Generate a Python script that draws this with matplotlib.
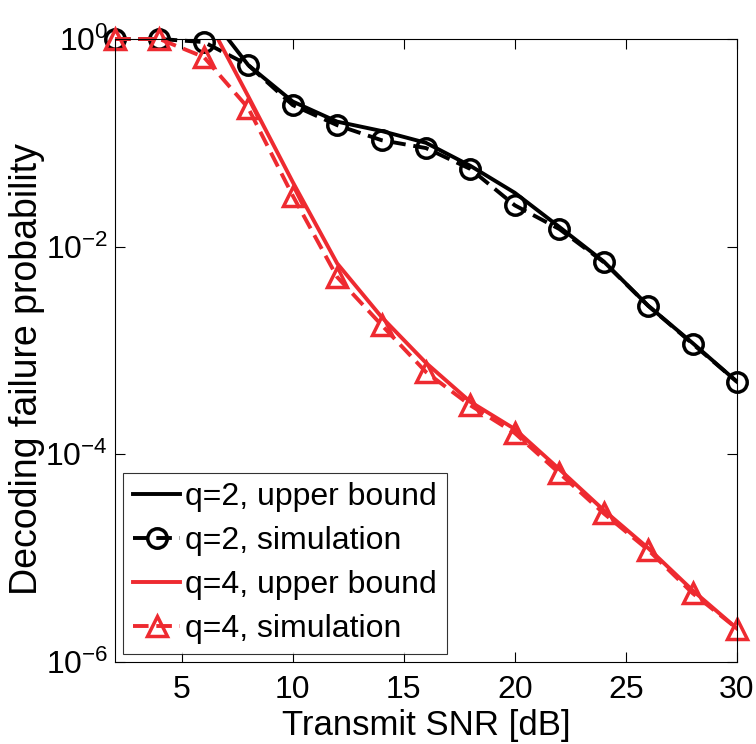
import matplotlib
matplotlib.use('Agg')
import matplotlib.pyplot as plt
from matplotlib.ticker import FixedLocator, NullLocator

plt.rcParams['font.family'] = ['Liberation Sans', 'DejaVu Sans']
plt.rcParams['mathtext.fontset'] = 'custom'
plt.rcParams['mathtext.rm'] = 'Liberation Sans'

snr = [2, 4, 6, 8, 10, 12, 14, 16, 18, 20, 22, 24, 26, 28, 30]

q2_bound = [8.0, 4.0, 2.0, 0.56, 0.25, 0.16, 0.13, 0.10, 0.06, 0.033,
            0.0155, 0.0072, 0.0027, 0.00118, 0.0005]
q2_sim = [1.0, 1.0, 0.935, 0.56, 0.231, 0.148, 0.106, 0.089, 0.056, 0.025,
          0.0148, 0.0071, 0.0027, 0.00116, 0.0005]
q4_bound = [6.0, 3.0, 1.8, 0.28, 0.042, 0.0069, 0.0021, 7.6e-4, 3.2e-4,
            1.75e-4, 7.2e-5, 2.9e-5, 1.25e-5, 4.9e-6, 2.1e-6]
q4_sim = [1.0, 1.0, 0.67, 0.216, 0.031, 0.0051, 0.00176, 6.2e-4, 2.96e-4,
          1.6e-4, 6.6e-5, 2.7e-5, 1.2e-5, 4.6e-6, 2.1e-6]

labels = ['q=2, upper bound', 'q=2, simulation',
          'q=4, upper bound', 'q=4, simulation']
red = '#ee2a30'

fig = plt.figure(figsize=(7.56, 7.44), dpi=100)
ax = fig.add_axes([115 / 756, 1 - 662 / 744, 622 / 756, 623 / 744])

ax.plot(snr, q2_bound, '-', color='black', lw=2.8, label=labels[0])
ax.plot(snr, q2_sim, '--', color='black', lw=2.8, marker='o', ms=14,
        mfc='none', mew=2.5, dashes=(4, 2), clip_on=False, label=labels[1])
ax.plot(snr, q4_bound, '-', color=red, lw=2.8, label=labels[2])
ax.plot(snr, q4_sim, '--', color=red, lw=2.8, marker='^', ms=14,
        mfc='none', mew=2.5, dashes=(4, 2), clip_on=False, label=labels[3])

ax.set_yscale('log')
ax.set_xlim(2, 30)
ax.set_ylim(1e-6, 1)
ax.set_xticks([5, 10, 15, 20, 25, 30])
ax.yaxis.set_major_locator(FixedLocator([1e-6, 1e-4, 1e-2, 1]))
ax.yaxis.set_minor_locator(NullLocator())
ax.tick_params(direction='in', length=7, width=0.8, labelsize=23,
               top=True, right=True)
ax.tick_params(axis='x', pad=9)
ax.tick_params(axis='y', pad=5)
for s in ax.spines.values():
    s.set_linewidth(0.8)

ax.set_xlabel('Transmit SNR [dB]', fontsize=25)
ax.set_ylabel('Decoding failure probability', fontsize=27)
ax.xaxis.set_label_coords(0.5, -0.075)
ax.yaxis.set_label_coords(-0.112, 0.47)

leg = ax.legend(loc='lower left', fontsize=23, frameon=True, fancybox=False,
                edgecolor='black', borderaxespad=0.25, handlelength=1.5,
                handletextpad=0.15, labelspacing=0.44, borderpad=0.3)
leg.get_frame().set_linewidth(0.8)

plt.savefig('out.png', dpi=100)
plt.close()
